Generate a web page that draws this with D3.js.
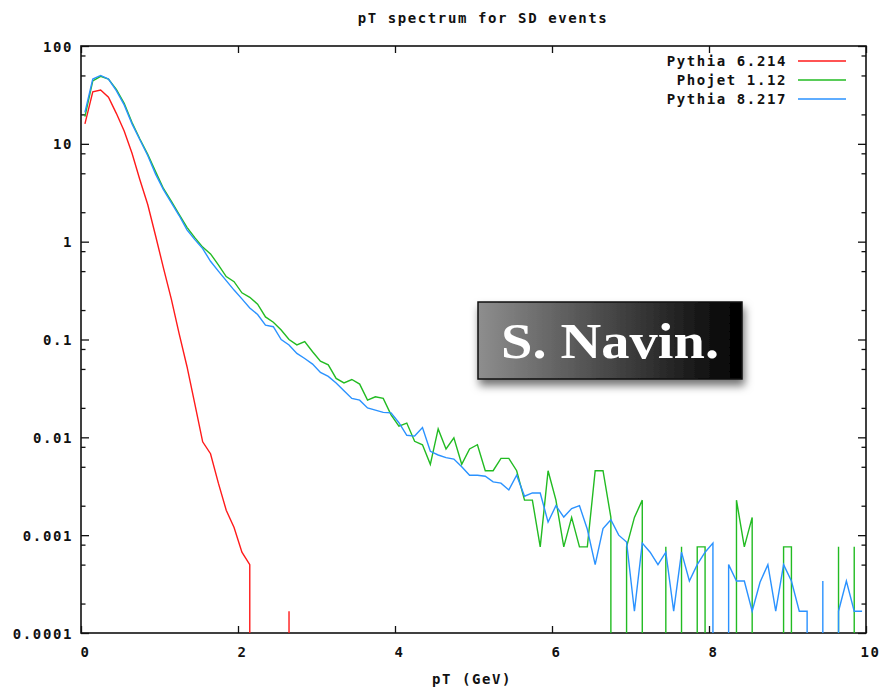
<!DOCTYPE html>
<html>
<head>
<meta charset="utf-8">
<script src="https://cdn.jsdelivr.net/npm/d3@7"></script>
<style>
  body { margin: 0; background: #fff; }
  text { font-family: "DejaVu Sans Mono", monospace; font-weight: bold; font-size: 14px; letter-spacing: 1.6px; fill: #111; }
</style>
</head>
<body>
<div id="chart"></div>
<script>
// bin centres (GeV)
const pT = [
  0.05,0.15,0.25,0.35,0.45,0.55,0.65,0.75,0.85,0.95,
  1.05,1.15,1.25,1.35,1.45,1.55,1.65,1.75,1.85,1.95,
  2.05,2.15,2.25,2.35,2.45,2.55,2.65,2.75,2.85,2.95,
  3.05,3.15,3.25,3.35,3.45,3.55,3.65,3.75,3.85,3.95,
  4.05,4.15,4.25,4.35,4.45,4.55,4.65,4.75,4.85,4.95,
  5.05,5.15,5.25,5.35,5.45,5.55,5.65,5.75,5.85,5.95,
  6.05,6.15,6.25,6.35,6.45,6.55,6.65,6.75,6.85,6.95,
  7.05,7.15,7.25,7.35,7.45,7.55,7.65,7.75,7.85,7.95,
  8.05,8.15,8.25,8.35,8.45,8.55,8.65,8.75,8.85,8.95,
  9.05,9.15,9.25,9.35,9.45,9.55,9.65,9.75,9.85,9.95
];

// Pythia 6.214
const pythia6 = [
  16,34,35.5,30,20.5,13.5,8,4.3,2.4,1.15,
  0.54,0.26,0.115,0.053,0.022,0.009,0.0068,0.0034,0.0018,0.0012,
  0.00067,0.0005,0,0,0,0,0.000167,0,0,0,
  0,0,0,0,0,0,0,0,0,0,
  0,0,0,0,0,0,0,0,0,0,
  0,0,0,0,0,0,0,0,0,0,
  0,0,0,0,0,0,0,0,0,0,
  0,0,0,0,0,0,0,0,0,0,
  0,0,0,0,0,0,0,0,0,0,
  0,0,0,0,0,0,0,0,0,0
];

// Phojet 1.12
const phojet = [
  19,44,49,46,36,26,16.5,11.2,7.8,5.2,
  3.5,2.6,1.9,1.4,1.1,0.88,0.75,0.58,0.44,0.39,
  0.30,0.27,0.23,0.17,0.15,0.125,0.10,0.088,0.095,0.075,
  0.060,0.055,0.040,0.036,0.039,0.035,0.024,0.026,0.025,0.017,
  0.0130,0.0140,0.0091,0.0084,0.0053,0.0122,0.0076,0.0099,0.0053,0.0076,
  0.0084,0.00456,0.00456,0.0061,0.0061,0.00456,0.00228,0.00228,0.00076,0.00456,
  0.00228,0.00076,0.00152,0.00076,0.00076,0.00456,0.00456,0.00152,0,0.00076,
  0.00152,0.00228,0,0,0.00076,0,0.00076,0,0.00076,0.00076,
  0,0,0,0.00228,0.00076,0.00152,0,0,0,0.00076,
  0.00076,0,0,0,0,0,0.00076,0,0.00076,0
];

// Pythia 8.217
const pythia8 = [
  21,46,50,46,35,25,16,11,7.6,4.9,
  3.4,2.5,1.85,1.32,1.05,0.85,0.63,0.50,0.40,0.32,
  0.26,0.21,0.18,0.14,0.135,0.10,0.088,0.072,0.064,0.056,
  0.046,0.042,0.036,0.030,0.025,0.024,0.020,0.019,0.018,0.0178,
  0.0141,0.0105,0.0103,0.0126,0.0072,0.0066,0.0062,0.0060,0.0050,0.0041,
  0.0041,0.0040,0.0035,0.0034,0.0029,0.0041,0.0025,0.0027,0.0027,0.00136,
  0.0020,0.00153,0.00187,0.0020,0.00115,0.0005,0.00117,0.00144,0.0010,0.00085,
  0.000167,0.00083,0.00067,0.0005,0.00067,0.000167,0.00067,0.00034,0.0005,0.00067,
  0.00083,0,0.0005,0.00034,0.00034,0.000167,0.00033,0.0005,0.000167,0.0005,
  0.00034,0.000167,0.000167,0,0.00034,0,0.000167,0.00034,0.000167,0.000167
];

const seriesNames = ["Pythia 6.214", "Phojet 1.12", "Pythia 8.217"];
const seriesColors = ["#ff1a1a", "#22bb22", "#2a92ff"];
const xTicks = [0, 2, 4, 6, 8, 10];
const yTicks = [0.0001, 0.001, 0.01, 0.1, 1, 10, 100];
const yTickLabels = ["0.0001", "0.001", "0.01", "0.1", "1", "10", "100"];

//chart size
const width = 879;
const height = 689;
const margin = { top: 46, right: 13, bottom: 56, left: 81 };

const svg = d3.select("#chart")
  .append("svg")
  .attr("width", width)
  .attr("height", height);

const x = d3.scaleLinear()
  .domain([0, 10])
  .range([margin.left, width - margin.right]);

const y = d3.scaleLog()
  .domain([1e-4, 100])
  .range([height - margin.bottom, margin.top]);

// minor ticks at 2, 5, 8 of each decade
const yMinor = [];
yTicks.slice(0, -1).forEach(t => [2, 5, 8].forEach(m => yMinor.push(t * m)));

const defs = svg.append("defs");
const grad = defs.append("linearGradient").attr("id", "boxGrad");
grad.append("stop").attr("offset", "0%").attr("stop-color", "#8e8e8e");
grad.append("stop").attr("offset", "100%").attr("stop-color", "#000");
const shadow = defs.append("filter").attr("id", "shadow")
  .attr("x", "-10%").attr("y", "-20%").attr("width", "120%").attr("height", "150%");
shadow.append("feDropShadow")
  .attr("dx", 2).attr("dy", 6).attr("stdDeviation", 4)
  .attr("flood-color", "#000").attr("flood-opacity", 0.55);

defs.append("clipPath").attr("id", "plotClip")
  .append("rect")
  .attr("x", margin.left).attr("y", margin.top)
  .attr("width", width - margin.left - margin.right)
  .attr("height", height - margin.top - margin.bottom);

// axes (ticks pointing inwards, mirrored)
const styleAxis = g => {
  g.select(".domain").remove();
  g.selectAll("line").attr("stroke", "#111").attr("stroke-width", 1.3);
  g.selectAll("text").attr("fill", "#111").style("font-size", null);
  g.attr("font-family", null).attr("font-size", null);
};

svg.append("g")
  .attr("transform", `translate(${margin.left},0)`)
  .call(d3.axisLeft(y).tickValues(yTicks).tickSize(-8).tickPadding(8)
    .tickFormat((d, i) => yTickLabels[i]))
  .call(styleAxis)
  .selectAll("text").attr("dy", "0.36em");

svg.append("g")
  .attr("transform", `translate(${margin.left},0)`)
  .call(d3.axisLeft(y).tickValues(yMinor).tickSize(-4.5).tickFormat(""))
  .call(styleAxis);

svg.append("g")
  .attr("transform", `translate(${width - margin.right},0)`)
  .call(d3.axisRight(y).tickValues(yTicks).tickSize(-8).tickFormat(""))
  .call(styleAxis);

svg.append("g")
  .attr("transform", `translate(${width - margin.right},0)`)
  .call(d3.axisRight(y).tickValues(yMinor).tickSize(-4.5).tickFormat(""))
  .call(styleAxis);

svg.append("g")
  .attr("transform", `translate(0,${height - margin.bottom})`)
  .call(d3.axisBottom(x).tickValues(xTicks).tickSize(-7).tickPadding(14)
    .tickFormat(d3.format("d")))
  .call(styleAxis)
  .selectAll("text").attr("dx", "4px");

svg.append("g")
  .attr("transform", `translate(0,${margin.top})`)
  .call(d3.axisTop(x).tickValues(xTicks).tickSize(-7).tickFormat(""))
  .call(styleAxis);

// border
svg.append("rect")
  .attr("x", margin.left).attr("y", margin.top)
  .attr("width", width - margin.left - margin.right)
  .attr("height", height - margin.top - margin.bottom)
  .attr("fill", "none").attr("stroke", "#111").attr("stroke-width", 1.6);

// split a series into drawable pieces; empty bins drop straight to the floor
const floor = y.domain()[0];
function pieces(vals) {
  const out = [];
  let cur = null;
  vals.forEach((v, i) => {
    if (v > 0) {
      if (!cur) {
        cur = [];
        if (i > 0) cur.push([pT[i], floor]);
      }
      cur.push([pT[i], v]);
    } else if (cur) {
      cur.push([pT[i - 1], floor]);
      out.push(cur);
      cur = null;
    }
  });
  if (cur) out.push(cur);
  return out;
}

const line = d3.line().x(d => x(d[0])).y(d => y(d[1]));
const plot = svg.append("g").attr("clip-path", "url(#plotClip)");

[pythia6, phojet, pythia8].forEach((vals, s) => {
  plot.selectAll(null)
    .data(pieces(vals))
    .enter().append("path")
    .attr("d", line)
    .attr("fill", "none")
    .attr("stroke", seriesColors[s])
    .attr("stroke-width", 1.4)
    .attr("stroke-linejoin", "miter");
});

// legend
const legend = svg.append("g");
seriesNames.forEach((name, i) => {
  const ly = 61 + i * 19;
  legend.append("text")
    .attr("x", 787).attr("y", ly + 5)
    .attr("text-anchor", "end")
    .text(name);
  legend.append("line")
    .attr("x1", 798).attr("x2", 846)
    .attr("y1", ly).attr("y2", ly)
    .attr("stroke", seriesColors[i]).attr("stroke-width", 1.4);
});

// titles
svg.append("text")
  .attr("x", 483).attr("y", 23)
  .attr("text-anchor", "middle")
  .text("pT spectrum for SD events");

svg.append("text")
  .attr("x", 472).attr("y", 684)
  .attr("text-anchor", "middle")
  .text("pT (GeV)");

// watermark box
const wm = svg.append("g");
wm.append("rect")
  .attr("x", 478).attr("y", 302).attr("width", 264).attr("height", 77)
  .attr("fill", "url(#boxGrad)")
  .attr("stroke", "#111").attr("stroke-width", 1.5)
  .attr("filter", "url(#shadow)");
wm.append("text")
  .attr("x", 610).attr("y", 358)
  .attr("text-anchor", "middle")
  .attr("textLength", 218)
  .attr("lengthAdjust", "spacingAndGlyphs")
  .style("font-family", "'Liberation Serif', 'DejaVu Serif', serif")
  .style("font-size", "50px")
  .style("letter-spacing", "0px")
  .style("fill", "#fff")
  .text("S. Navin.");
</script>
</body>
</html>
